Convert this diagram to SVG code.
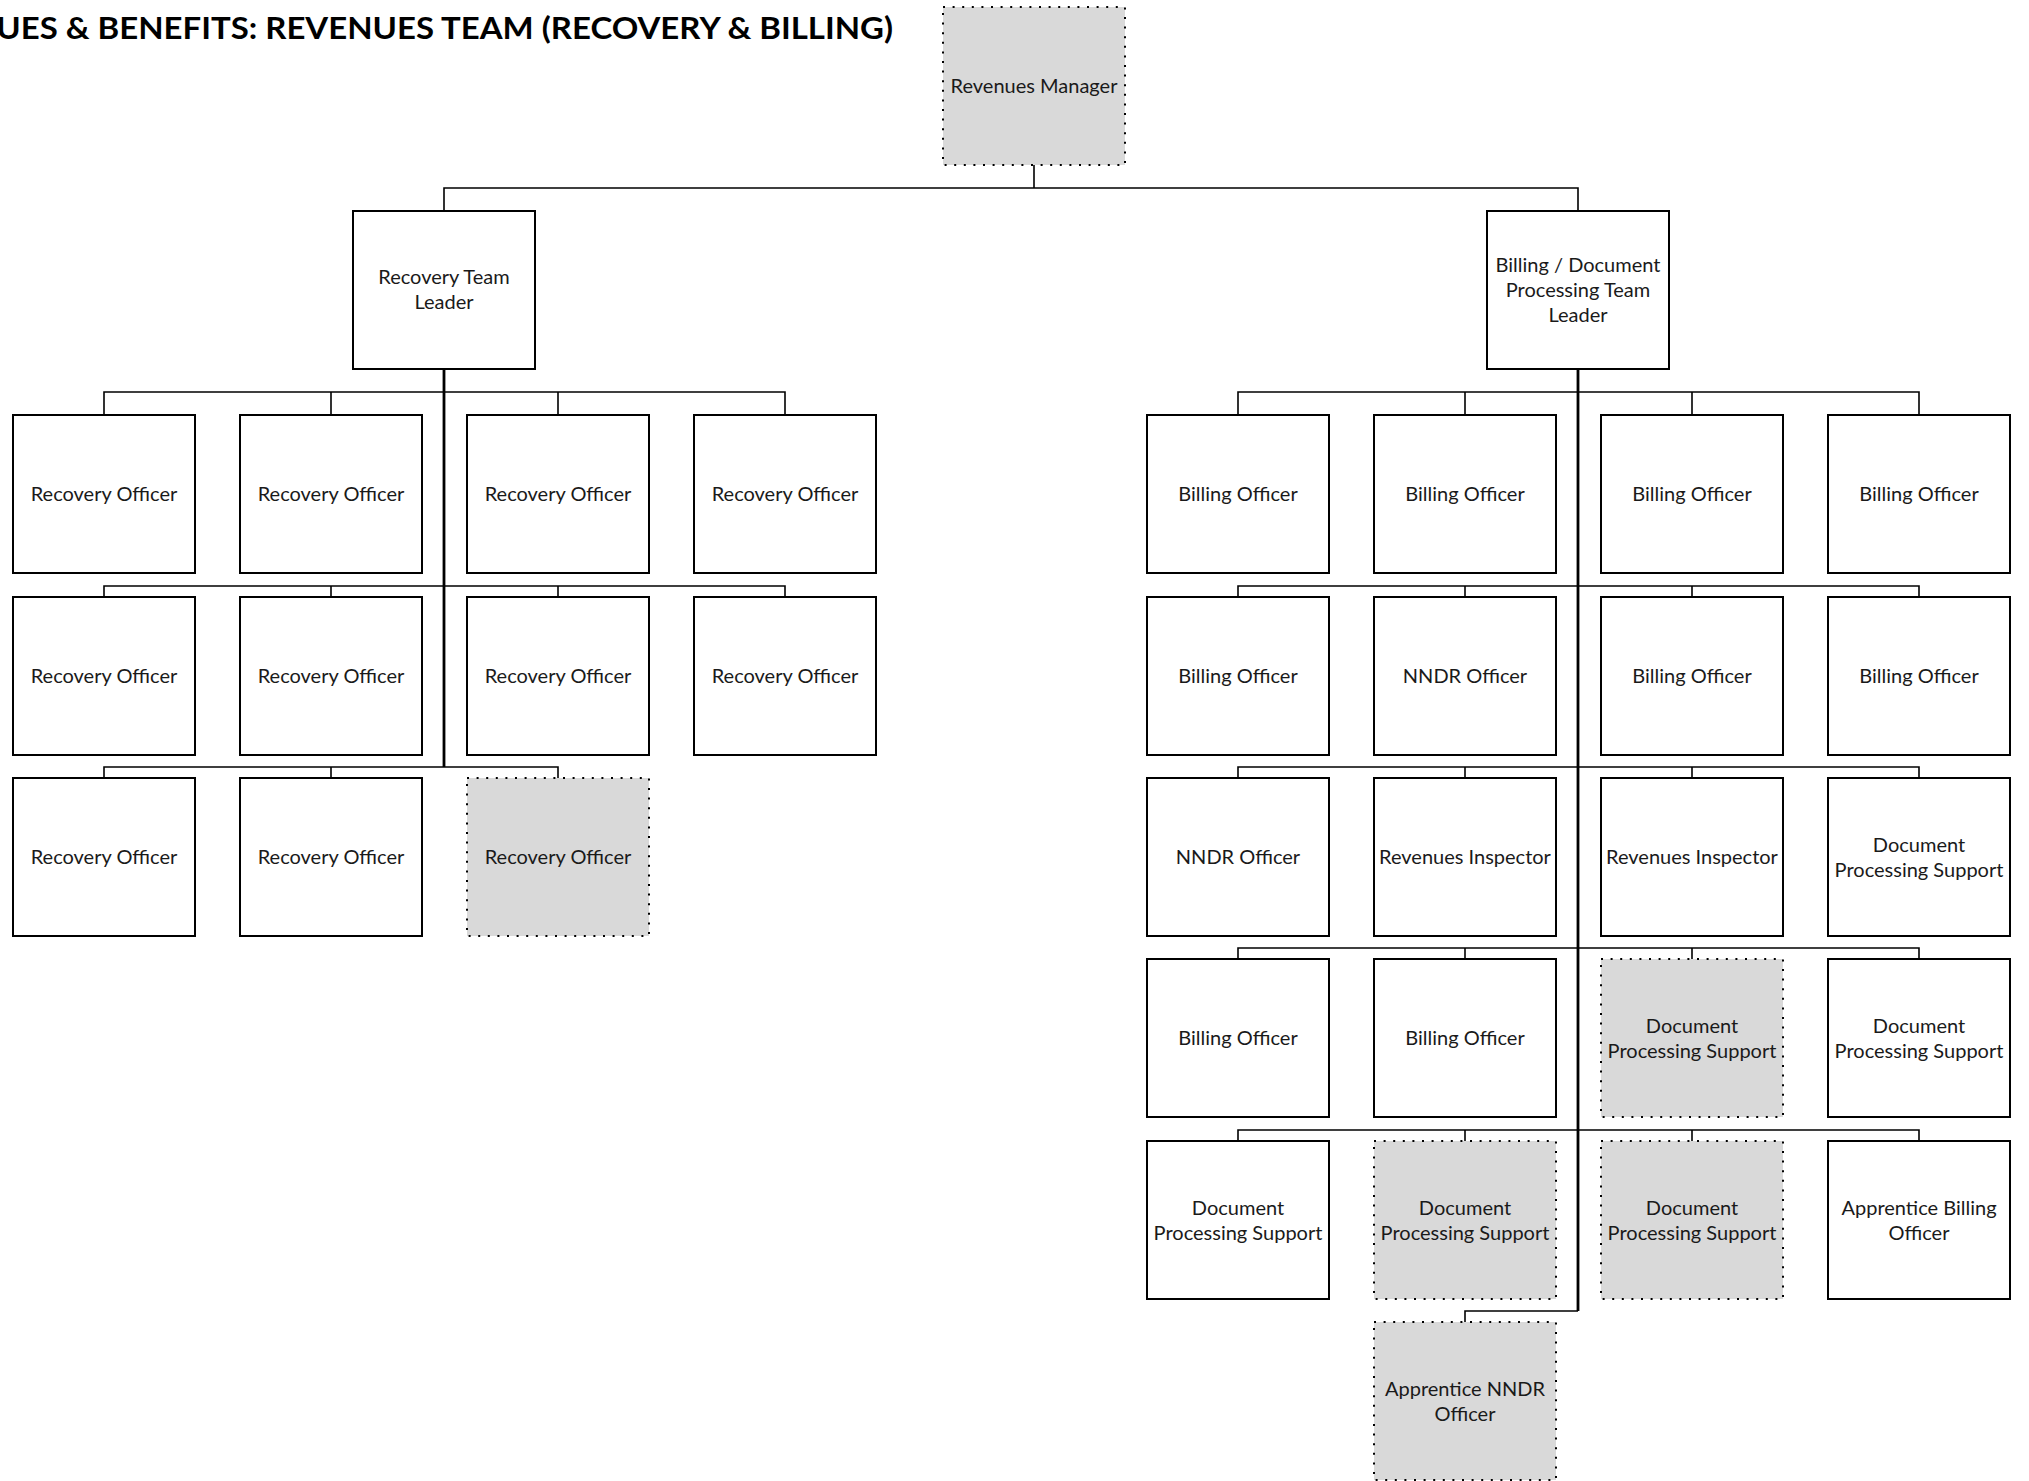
<svg xmlns="http://www.w3.org/2000/svg" width="2029" height="1481" viewBox="0 0 2029 1481">
  <style>
    .bg { fill: #ffffff; }
    .box { fill: #ffffff; stroke: #000000; stroke-width: 2; }
    .vacant { fill: #d9d9d9; stroke: #000000; stroke-width: 2; stroke-dasharray: 2 7.6; }
    .lbl { font-family: Lato, "Liberation Sans", Arial, sans-serif; font-size: 20px; fill: #1a1a1a; text-anchor: middle; }
    .title { font-family: Lato, "Liberation Sans", Arial, sans-serif; font-weight: 700; font-size: 30px; fill: #000000; }
    .branch { fill: none; stroke: #000000; stroke-width: 1.6; }
    .trunk { fill: none; stroke: #000000; stroke-width: 2.8; }
  </style>

  <rect class="bg" x="0" y="0" width="2029" height="1481"/>

  <text class="title" x="-111" y="39" textLength="1004" lengthAdjust="spacingAndGlyphs">REVENUES &amp; BENEFITS: REVENUES TEAM (RECOVERY &amp; BILLING)</text>

  <!-- reporting lines -->
  <g id="connectors">
    <path class="branch" d="M1034 165V188 M444 211V188H1578V211"/>
    <!-- recovery team -->
    <path class="trunk" d="M444 369V767"/>
    <path class="branch" d="M104 415V392H785V415 M331 392V415 M558 392V415"/>
    <path class="branch" d="M104 597V586H785V597 M331 586V597 M558 586V597"/>
    <path class="branch" d="M104 778V767H558V778 M331 767V778"/>
    <!-- billing / document processing team -->
    <path class="trunk" d="M1578 369V1311"/>
    <path class="branch" d="M1238 415V392H1919V415 M1465 392V415 M1692 392V415"/>
    <path class="branch" d="M1238 597V586H1919V597 M1465 586V597 M1692 586V597"/>
    <path class="branch" d="M1238 778V767H1919V778 M1465 767V778 M1692 767V778"/>
    <path class="branch" d="M1238 959V948H1919V959 M1465 948V959 M1692 948V959"/>
    <path class="branch" d="M1238 1141V1130H1919V1141 M1465 1130V1141 M1692 1130V1141"/>
    <path class="branch" d="M1578 1311H1465V1322" stroke-width="2"/>
  </g>

  <!-- management -->
  <g id="revenues-manager">
    <rect class="vacant" x="943" y="7" width="182" height="158"/>
    <text class="lbl" x="1034" y="93">Revenues Manager</text>
  </g>
  <g id="recovery-team-leader">
    <rect class="box" x="353" y="211" width="182" height="158"/>
    <text class="lbl" x="444" y="284">Recovery Team</text>
    <text class="lbl" x="444" y="309">Leader</text>
  </g>
  <g id="billing-team-leader">
    <rect class="box" x="1487" y="211" width="182" height="158"/>
    <text class="lbl" x="1578" y="272">Billing / Document</text>
    <text class="lbl" x="1578" y="297">Processing Team</text>
    <text class="lbl" x="1578" y="322">Leader</text>
  </g>

  <!-- recovery officers -->
  <g id="recovery-1-1"><rect class="box" x="13" y="415" width="182" height="158"/><text class="lbl" x="104" y="501">Recovery Officer</text></g>
  <g id="recovery-1-2"><rect class="box" x="240" y="415" width="182" height="158"/><text class="lbl" x="331" y="501">Recovery Officer</text></g>
  <g id="recovery-1-3"><rect class="box" x="467" y="415" width="182" height="158"/><text class="lbl" x="558" y="501">Recovery Officer</text></g>
  <g id="recovery-1-4"><rect class="box" x="694" y="415" width="182" height="158"/><text class="lbl" x="785" y="501">Recovery Officer</text></g>
  <g id="recovery-2-1"><rect class="box" x="13" y="597" width="182" height="158"/><text class="lbl" x="104" y="683">Recovery Officer</text></g>
  <g id="recovery-2-2"><rect class="box" x="240" y="597" width="182" height="158"/><text class="lbl" x="331" y="683">Recovery Officer</text></g>
  <g id="recovery-2-3"><rect class="box" x="467" y="597" width="182" height="158"/><text class="lbl" x="558" y="683">Recovery Officer</text></g>
  <g id="recovery-2-4"><rect class="box" x="694" y="597" width="182" height="158"/><text class="lbl" x="785" y="683">Recovery Officer</text></g>
  <g id="recovery-3-1"><rect class="box" x="13" y="778" width="182" height="158"/><text class="lbl" x="104" y="864">Recovery Officer</text></g>
  <g id="recovery-3-2"><rect class="box" x="240" y="778" width="182" height="158"/><text class="lbl" x="331" y="864">Recovery Officer</text></g>
  <g id="recovery-3-3"><rect class="vacant" x="467" y="778" width="182" height="158"/><text class="lbl" x="558" y="864">Recovery Officer</text></g>

  <!-- billing / document processing staff: row 1 -->
  <g id="billing-1-1"><rect class="box" x="1147" y="415" width="182" height="158"/><text class="lbl" x="1238" y="501">Billing Officer</text></g>
  <g id="billing-1-2"><rect class="box" x="1374" y="415" width="182" height="158"/><text class="lbl" x="1465" y="501">Billing Officer</text></g>
  <g id="billing-1-3"><rect class="box" x="1601" y="415" width="182" height="158"/><text class="lbl" x="1692" y="501">Billing Officer</text></g>
  <g id="billing-1-4"><rect class="box" x="1828" y="415" width="182" height="158"/><text class="lbl" x="1919" y="501">Billing Officer</text></g>
  <!-- row 2 -->
  <g id="billing-2-1"><rect class="box" x="1147" y="597" width="182" height="158"/><text class="lbl" x="1238" y="683">Billing Officer</text></g>
  <g id="nndr-2-2"><rect class="box" x="1374" y="597" width="182" height="158"/><text class="lbl" x="1465" y="683">NNDR Officer</text></g>
  <g id="billing-2-3"><rect class="box" x="1601" y="597" width="182" height="158"/><text class="lbl" x="1692" y="683">Billing Officer</text></g>
  <g id="billing-2-4"><rect class="box" x="1828" y="597" width="182" height="158"/><text class="lbl" x="1919" y="683">Billing Officer</text></g>
  <!-- row 3 -->
  <g id="nndr-3-1"><rect class="box" x="1147" y="778" width="182" height="158"/><text class="lbl" x="1238" y="864">NNDR Officer</text></g>
  <g id="inspector-3-2"><rect class="box" x="1374" y="778" width="182" height="158"/><text class="lbl" x="1465" y="864">Revenues Inspector</text></g>
  <g id="inspector-3-3"><rect class="box" x="1601" y="778" width="182" height="158"/><text class="lbl" x="1692" y="864">Revenues Inspector</text></g>
  <g id="docs-3-4"><rect class="box" x="1828" y="778" width="182" height="158"/><text class="lbl" x="1919" y="851.5">Document</text><text class="lbl" x="1919" y="876.5">Processing Support</text></g>
  <!-- row 4 -->
  <g id="billing-4-1"><rect class="box" x="1147" y="959" width="182" height="158"/><text class="lbl" x="1238" y="1045">Billing Officer</text></g>
  <g id="billing-4-2"><rect class="box" x="1374" y="959" width="182" height="158"/><text class="lbl" x="1465" y="1045">Billing Officer</text></g>
  <g id="docs-4-3"><rect class="vacant" x="1601" y="959" width="182" height="158"/><text class="lbl" x="1692" y="1032.5">Document</text><text class="lbl" x="1692" y="1057.5">Processing Support</text></g>
  <g id="docs-4-4"><rect class="box" x="1828" y="959" width="182" height="158"/><text class="lbl" x="1919" y="1032.5">Document</text><text class="lbl" x="1919" y="1057.5">Processing Support</text></g>
  <!-- row 5 -->
  <g id="docs-5-1"><rect class="box" x="1147" y="1141" width="182" height="158"/><text class="lbl" x="1238" y="1214.5">Document</text><text class="lbl" x="1238" y="1239.5">Processing Support</text></g>
  <g id="docs-5-2"><rect class="vacant" x="1374" y="1141" width="182" height="158"/><text class="lbl" x="1465" y="1214.5">Document</text><text class="lbl" x="1465" y="1239.5">Processing Support</text></g>
  <g id="docs-5-3"><rect class="vacant" x="1601" y="1141" width="182" height="158"/><text class="lbl" x="1692" y="1214.5">Document</text><text class="lbl" x="1692" y="1239.5">Processing Support</text></g>
  <g id="apprentice-billing"><rect class="box" x="1828" y="1141" width="182" height="158"/><text class="lbl" x="1919" y="1214.5">Apprentice Billing</text><text class="lbl" x="1919" y="1239.5">Officer</text></g>
  <!-- row 6 -->
  <g id="apprentice-nndr"><rect class="vacant" x="1374" y="1322" width="182" height="158"/><text class="lbl" x="1465" y="1395.5">Apprentice NNDR</text><text class="lbl" x="1465" y="1420.5">Officer</text></g>
</svg>
